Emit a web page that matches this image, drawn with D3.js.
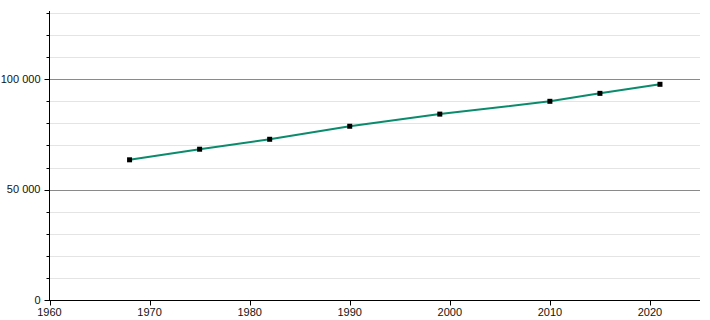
<!DOCTYPE html>
<html><head><meta charset="utf-8">
<script src="https://cdn.jsdelivr.net/npm/d3@7"></script>
<style>body{margin:0;background:#fff}svg{display:block}text{font-family:"Liberation Sans",Arial,sans-serif}</style>
</head><body><svg id="c" width="710" height="320"></svg>
<script>
const years = [1968, 1975, 1982, 1990, 1999, 2010, 2015, 2021];
const population = [63500, 68300, 72800, 78700, 84200, 90000, 93600, 97700];
const xTicks = [1960, 1970, 1980, 1990, 2000, 2010, 2020];
const yMajorTicks = [0, 50000, 100000];
const yMinorTicks = [10000, 20000, 30000, 40000, 60000, 70000, 80000, 90000, 110000, 120000, 130000];

const svg = d3.select("#c");
const x = d3.scaleLinear().domain([1960, 2025]).range([49.5, 700]);
const y = d3.scaleLinear().domain([0, 130000]).range([300, 13]);
const fmt = d => d3.format(",")(d).replace(/,/g, " ");

// minor gridlines
svg.append("g").selectAll("line").data(yMinorTicks).join("line")
  .attr("x1", 50).attr("x2", 700)
  .attr("y1", d => Math.round(y(d)) + 0.5).attr("y2", d => Math.round(y(d)) + 0.5)
  .attr("stroke", "#e4e4e4").attr("stroke-width", 1);
// major gridlines
svg.append("g").selectAll("line").data(yMajorTicks.filter(d => d > 0)).join("line")
  .attr("x1", 50).attr("x2", 700)
  .attr("y1", d => Math.round(y(d)) + 0.5).attr("y2", d => Math.round(y(d)) + 0.5)
  .attr("stroke", "#8a8a8a").attr("stroke-width", 1);

// y axis
const yAxis = svg.append("g").attr("transform", "translate(49.5,0)");
yAxis.append("line").attr("x1", 0).attr("x2", 0).attr("y1", 11).attr("y2", 300).attr("stroke", "#000");
yAxis.selectAll(".mn").data(yMinorTicks).join("line")
  .attr("x1", -3).attr("x2", 0)
  .attr("y1", d => Math.round(y(d)) + 0.5).attr("y2", d => Math.round(y(d)) + 0.5)
  .attr("stroke", "#000");
yAxis.selectAll(".mj").data(yMajorTicks).join("line")
  .attr("x1", -5).attr("x2", 0)
  .attr("y1", d => Math.round(y(d)) + 0.5).attr("y2", d => Math.round(y(d)) + 0.5)
  .attr("stroke", "#000");
yAxis.selectAll("text").data(yMajorTicks).join("text")
  .attr("x", -9).attr("y", d => y(d)).attr("dy", "0.35em")
  .attr("text-anchor", "end").attr("font-size", 11).attr("fill", "#111")
  .text(fmt);

// x axis
const xAxis = svg.append("g").attr("transform", "translate(0,300.5)");
xAxis.append("line").attr("x1", 49).attr("x2", 700).attr("y1", 0).attr("y2", 0).attr("stroke", "#000");
xAxis.selectAll("line.t").data(xTicks).join("line").attr("class", "t")
  .attr("x1", d => Math.round(x(d)) + 0.5).attr("x2", d => Math.round(x(d)) + 0.5)
  .attr("y1", 0).attr("y2", 5).attr("stroke", "#000");
xAxis.selectAll("text").data(xTicks).join("text")
  .attr("x", d => x(d)).attr("y", 15)
  .attr("text-anchor", "middle").attr("font-size", 11).attr("fill", "#111")
  .text(d => d);

// line
const data = years.map((yr, i) => ({yr, v: population[i]}));
svg.append("path").datum(data)
  .attr("fill", "none").attr("stroke", "#0a8c6c").attr("stroke-width", 2)
  .attr("d", d3.line().x(d => x(d.yr)).y(d => y(d.v)));
svg.append("g").selectAll("rect").data(data).join("rect")
  .attr("x", d => x(d.yr) - 2.5).attr("y", d => y(d.v) - 2.5)
  .attr("width", 5).attr("height", 5).attr("fill", "#000");
</script></body></html>
